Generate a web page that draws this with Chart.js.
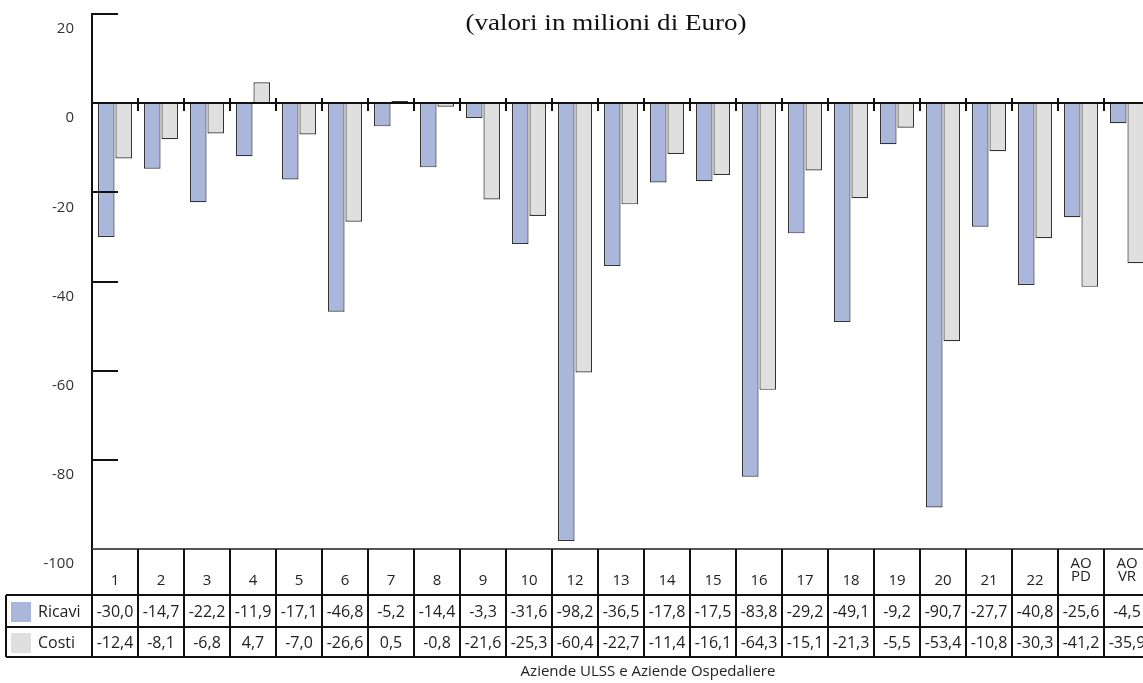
<!DOCTYPE html>
<html><head><meta charset="utf-8">
<script src="https://cdn.jsdelivr.net/npm/chart.js@4"></script>
<style>html,body{margin:0;padding:0;overflow:hidden;background:#fff}#wrap{width:1150px;height:683px}</style>
</head><body><div id="wrap"><canvas id="c" width="1150" height="683"></canvas></div>
<script>
const categories = ['1','2','3','4','5','6','7','8','9','10','12','13','14','15','16','17','18','19','20','21','22',['AO','PD'],['AO','VR']];
const ricavi = [-30.0,-14.7,-22.2,-11.9,-17.1,-46.8,-5.2,-14.4,-3.3,-31.6,-98.2,-36.5,-17.8,-17.5,-83.8,-29.2,-49.1,-9.2,-90.7,-27.7,-40.8,-25.6,-4.5];
const costi = [-12.4,-8.1,-6.8,4.7,-7.0,-26.6,0.5,-0.8,-21.6,-25.3,-60.4,-22.7,-11.4,-16.1,-64.3,-15.1,-21.3,-5.5,-53.4,-10.8,-30.3,-41.2,-35.9];
const seriesNames = ['Ricavi','Costi'];
const yMin = -100, yMax = 20, yStep = 20;
const titleText = '(valori in milioni di Euro)';
const xTitleText = 'Aziende ULSS e Aziende Ospedaliere';

const colors = ['#abb7da','#dfdfdf'];
const SANS = '"Open Sans", sans-serif';

function fmt(v){ return v.toFixed(1).replace('.', ','); }

const overlay = {
  id: 'overlay',
  afterDraw(chart){
    const ctx = chart.ctx, xs = chart.scales.x, ys = chart.scales.y, a = chart.chartArea;
    const n = categories.length;
    const step = xs.getPixelForValue(1) - xs.getPixelForValue(0);
    const left = xs.getPixelForValue(0) - step/2;
    const right = left + n*step;
    const y0 = Math.round(ys.getPixelForValue(0));
    ctx.save();
    ctx.strokeStyle = '#111';
    ctx.lineWidth = 2;
    // inner y ticks
    ys.ticks.forEach(t => {
      if (t.value === 0 || t.value === yMin) return;
      const py = Math.round(ys.getPixelForValue(t.value));
      ctx.beginPath(); ctx.moveTo(a.left, py); ctx.lineTo(a.left + 26, py); ctx.stroke();
    });
    // zero line
    ctx.beginPath(); ctx.moveTo(a.left, y0); ctx.lineTo(right, y0); ctx.stroke();
    for (let k = 1; k < n; k++) {
      const px = Math.round(left + k*step);
      ctx.beginPath(); ctx.moveTo(px, y0 - 5); ctx.lineTo(px, y0 + 8); ctx.stroke();
    }
    // table
    const top = Math.round(ys.getPixelForValue(yMin));
    const hdrB = top + 46, r1B = hdrB + 32, r2B = r1B + 30;
    const legL = 6;
    ctx.strokeStyle = '#555';
    ctx.beginPath(); ctx.moveTo(a.left, top); ctx.lineTo(right, top); ctx.stroke();
    ctx.strokeStyle = '#111';
    for (let k = 0; k <= n; k++) {
      const px = Math.round(left + k*step);
      ctx.beginPath(); ctx.moveTo(px, top); ctx.lineTo(px, r2B); ctx.stroke();
    }
    [hdrB, r1B, r2B].forEach(py => { ctx.beginPath(); ctx.moveTo(legL, py); ctx.lineTo(right, py); ctx.stroke(); });
    ctx.beginPath(); ctx.moveTo(legL, hdrB); ctx.lineTo(legL, r2B); ctx.stroke();
    // header labels
    ctx.fillStyle = '#222';
    ctx.textAlign = 'center';
    ctx.textBaseline = 'alphabetic';
    ctx.font = '15px ' + SANS;
    categories.forEach((c, i) => {
      const cx = xs.getPixelForValue(i);
      if (Array.isArray(c)) {
        ctx.fillText(c[0], cx, hdrB - 27);
        ctx.fillText(c[1], cx, hdrB - 14);
      } else {
        ctx.fillText(c, cx, hdrB - 10);
      }
    });
    // rows
    const rows = [[ricavi, top + 46, r1B], [costi, r1B, r2B]];
    ctx.font = '16px ' + SANS;
    ctx.textBaseline = 'middle';
    rows.forEach((r, ri) => {
      const cy = (r[1] + r[2]) / 2 + 1;
      r[0].forEach((v, i) => ctx.fillText(fmt(v), xs.getPixelForValue(i), cy));
      ctx.fillStyle = colors[ri];
      ctx.fillRect(11, Math.round(cy - 10), 20, 20);
      ctx.fillStyle = '#222';
      ctx.textAlign = 'left';
      ctx.fillText(seriesNames[ri], 38, cy);
      ctx.textAlign = 'center';
    });
    // x title
    ctx.font = '15px ' + SANS;
    ctx.fillText(xTitleText, 648, 672);
    // title
    ctx.font = '23px "Liberation Serif", "Times New Roman", serif';
    const w = ctx.measureText(titleText).width;
    ctx.translate(606, 24);
    ctx.scale(281 / w, 1);
    ctx.fillStyle = '#111';
    ctx.fillText(titleText, 0, 0);
    ctx.restore();
  }
};

new Chart(document.getElementById('c'), {
  type: 'bar',
  data: {
    labels: categories,
    datasets: [
      { label: seriesNames[0], data: ricavi, backgroundColor: colors[0], borderColor: '#333', borderWidth: 1.2 },
      { label: seriesNames[1], data: costi, backgroundColor: colors[1], borderColor: '#333', borderWidth: 1.2 }
    ]
  },
  options: {
    responsive: false,
    animation: false,
    events: [],
    categoryPercentage: 0.76,
    barPercentage: 0.95,
    layout: { padding: { left: 0, right: 0, top: 14, bottom: 134 } },
    plugins: { legend: { display: false }, title: { display: false }, tooltip: { enabled: false } },
    scales: {
      x: { display: false },
      y: {
        min: yMin, max: yMax,
        afterFit(s){ s.width = 92; s.paddingTop = 0; s.paddingBottom = 0; },
        ticks: { stepSize: yStep, padding: 18, labelOffset: 15, color: '#333', font: { family: SANS, size: 15 } },
        grid: { display: false, drawTicks: false },
        border: { display: true, color: '#111', width: 2 }
      }
    }
  },
  plugins: [overlay]
});
</script>
</body></html>
